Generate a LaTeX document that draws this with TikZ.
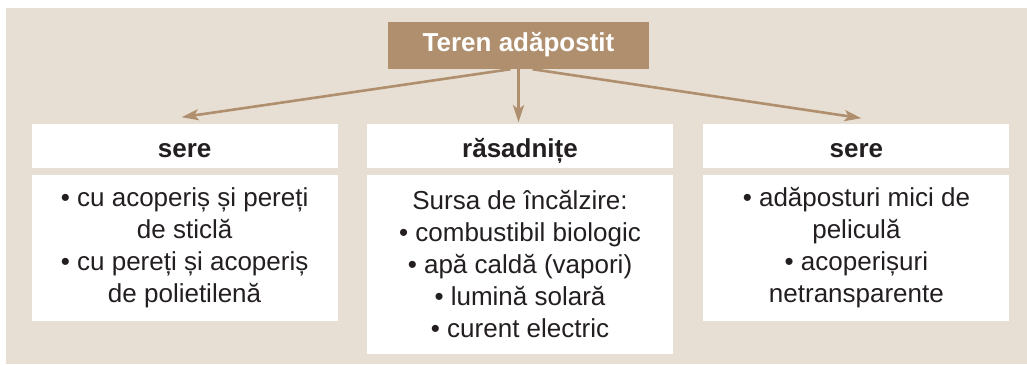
\documentclass[tikz,border=0pt]{standalone}
\usepackage{fontspec}
\setmainfont{Liberation Sans}
\usetikzlibrary{arrows.meta, positioning}

\definecolor{bgbeige}{HTML}{E7DFD3}
\definecolor{brownbox}{HTML}{AF8F6D}
\definecolor{inkblack}{HTML}{231F20}

\begin{document}
\begin{tikzpicture}[
  x=1pt, y=-1pt,
  node distance=6pt,
  title/.style={rectangle, fill=brownbox, text=white, inner sep=0pt,
                minimum width=261pt, minimum height=47pt,
                text height=19pt, text depth=6.6pt,
                font=\fontsize{26}{30}\selectfont\bfseries},
  head/.style={rectangle, fill=white, text=inkblack, inner sep=0pt,
               minimum width=306pt, minimum height=44pt,
               text height=22pt, text depth=0pt,
               font=\fontsize{26}{30}\selectfont\bfseries},
  body/.style={rectangle, fill=white, text=inkblack, inner sep=0pt,
               minimum width=306pt, align=center,
               font=\fontsize{26}{32}\selectfont},
  arrow/.style={-{Stealth[length=17pt, width=11pt, inset=4pt]},
                line width=2.6pt, draw=brownbox}
]
\useasboundingbox (0,0) rectangle (1027,364);
\fill[bgbeige] (6,8) rectangle (1027,364);

\node[title] (teren) at (518.5,45.5) {Teren adăpostit};
\node[head, below=55pt of teren.south, anchor=north, xshift=1.5pt] (hmid) {răsadnițe};
\node[head, left=29pt of hmid] (hleft) {sere};
\node[head, right=30pt of hmid] (hright) {sere};

\node[body, below=of hleft, minimum height=146pt] (bleft)
  {• cu acoperiș și pereți\\de sticlă\\• cu pereți și acoperiș\\de polietilenă};
\node[body, below=of hmid, minimum height=179pt] (bmid)
  {Sursa de încălzire:\\• combustibil biologic\\• apă caldă (vapori)\\• lumină solară\\• curent electric};
\node[body, below=of hright, minimum height=146pt] (bright)
  {• adăposturi mici de\\peliculă\\• acoperișuri\\netransparente};

\draw[arrow] ([xshift=-8pt]teren.south) -- ([xshift=-3pt, yshift=7pt]hleft.north);
\draw[arrow] (teren.south) -- ([xshift=-1.5pt, yshift=2pt]hmid.north);
\draw[arrow] ([xshift=14pt]teren.south) -- ([xshift=5pt, yshift=6pt]hright.north);

\end{tikzpicture}
\end{document}
